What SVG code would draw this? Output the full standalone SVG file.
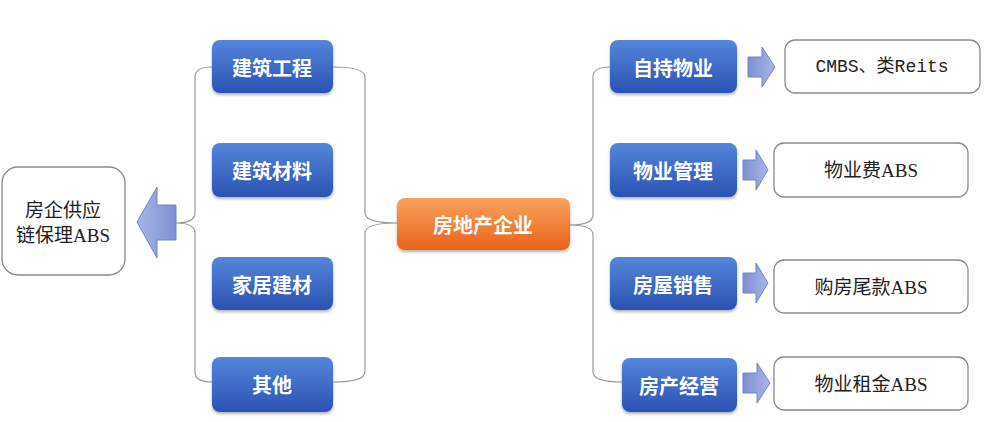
<svg xmlns="http://www.w3.org/2000/svg" width="985" height="422" viewBox="0 0 985 422">
<style>
.blue{fill:url(#gb);filter:url(#sh)}
.orange{fill:url(#go);filter:url(#sh)}
.white{fill:#fff;stroke:#8a8a8a;stroke-width:1.3}
.bt{font-family:"Noto Sans CJK SC","Liberation Sans",sans-serif;font-weight:bold;font-size:20px;fill:#fff;text-anchor:middle;dominant-baseline:central}
.wt{font-family:"Liberation Serif","Noto Sans CJK SC",serif;font-size:19px;fill:#222;text-anchor:middle;dominant-baseline:central}
.mono{font-family:"Liberation Mono","Noto Sans CJK SC",monospace;font-size:18px}
.ln{fill:none;stroke:#9a9a9a;stroke-width:1.2}
.arr{fill:url(#ga);stroke:#7184c6;stroke-width:1}
</style>
<defs>
<linearGradient id="gb" x1="0" y1="0" x2="0" y2="1">
<stop offset="0" stop-color="#5585db"/>
<stop offset="1" stop-color="#2a52b3"/>
</linearGradient>
<linearGradient id="go" x1="0" y1="0" x2="0" y2="1">
<stop offset="0" stop-color="#f9a35c"/>
<stop offset="1" stop-color="#e8621a"/>
</linearGradient>
<linearGradient id="ga" x1="0" y1="0" x2="1" y2="0">
<stop offset="0" stop-color="#7d8fd2"/>
<stop offset="1" stop-color="#a9b5e6"/>
</linearGradient>
<linearGradient id="gal" x1="1" y1="0" x2="0" y2="0">
<stop offset="0" stop-color="#7d8fd2"/>
<stop offset="1" stop-color="#a9b5e6"/>
</linearGradient>
<filter id="sh" x="-10%" y="-20%" width="120%" height="150%">
<feDropShadow dx="0" dy="2" stdDeviation="1.5" flood-color="#000" flood-opacity="0.3"/>
</filter>
</defs>

<g id="connectors">
<path class="ln" d="M212,67 Q195,67 195,77 L195,213 Q195,223 176,223 Q195,223 195,233 L195,372 Q195,382 212,382"/>
<path class="ln" d="M333,67 Q365,67 365,77 L365,213 Q365,223 397,223 Q365,223 365,233 L365,372 Q365,382 333,382"/>
<path class="ln" d="M610,67 Q593,67 593,77 L593,215 Q593,225 570,225 Q593,225 593,235 L593,372 Q593,382 622,382"/>
<path d="M176,205 L157,205 L157,187 L137,222 L157,258 L157,240 L176,240 Z" fill="url(#gal)" stroke="#7184c6" stroke-width="1"/>
<path class="arr" d="M748,57 L762,57 L762,47 L775,67 L762,87 L762,77 L748,77 Z"/>
<path class="arr" d="M743,160 L756,160 L756,150 L768,170 L756,190 L756,180 L743,180 Z"/>
<path class="arr" d="M743,273 L756,273 L756,263 L768,283 L756,303 L756,293 L743,293 Z"/>
<path class="arr" d="M743,373 L757,373 L757,363 L770,383 L757,403 L757,393 L743,393 Z"/>
</g>

<g id="n-supply"><rect class="white" x="2" y="167" width="123" height="108" rx="16"/>
<text class="wt" x="63" y="210" font-size="21">房企供应</text>
<text class="wt" x="63" y="235" font-size="21">链保理ABS</text></g>

<g id="n-jzgc"><rect class="blue" x="212" y="40" width="121" height="53" rx="8"/><text class="bt" x="272" y="67">建筑工程</text></g>
<g id="n-jzcl"><rect class="blue" x="212" y="143" width="121" height="54" rx="8"/><text class="bt" x="272" y="170">建筑材料</text></g>
<g id="n-jjjc"><rect class="blue" x="212" y="257" width="121" height="53" rx="8"/><text class="bt" x="272" y="284">家居建材</text></g>
<g id="n-qt"><rect class="blue" x="212" y="357" width="121" height="55" rx="8"/><text class="bt" x="272" y="384">其他</text></g>

<g id="n-center"><rect class="orange" x="397" y="198" width="173" height="52" rx="8"/><text class="bt" x="483" y="224">房地产企业</text></g>

<g id="n-zcwy"><rect class="blue" x="610" y="40" width="127" height="53" rx="8"/><text class="bt" x="673" y="67">自持物业</text></g>
<g id="n-wygl"><rect class="blue" x="610" y="143" width="127" height="54" rx="8"/><text class="bt" x="673" y="170">物业管理</text></g>
<g id="n-fwxs"><rect class="blue" x="610" y="257" width="127" height="53" rx="8"/><text class="bt" x="673" y="284">房屋销售</text></g>
<g id="n-fcjy"><rect class="blue" x="622" y="358" width="115" height="54" rx="8"/><text class="bt" x="679" y="385">房产经营</text></g>

<g id="n-cmbs"><rect class="white" x="785" y="40" width="195" height="53" rx="10"/><text class="wt mono" x="882" y="67">CMBS、类Reits</text></g>
<g id="n-wyf"><rect class="white" x="774" y="143" width="194" height="54" rx="10"/><text class="wt" x="871" y="170">物业费ABS</text></g>
<g id="n-gfwk"><rect class="white" x="774" y="260" width="194" height="53" rx="10"/><text class="wt" x="871" y="287">购房尾款ABS</text></g>
<g id="n-wyzj"><rect class="white" x="774" y="357" width="194" height="53" rx="10"/><text class="wt" x="871" y="384">物业租金ABS</text></g>
</svg>
